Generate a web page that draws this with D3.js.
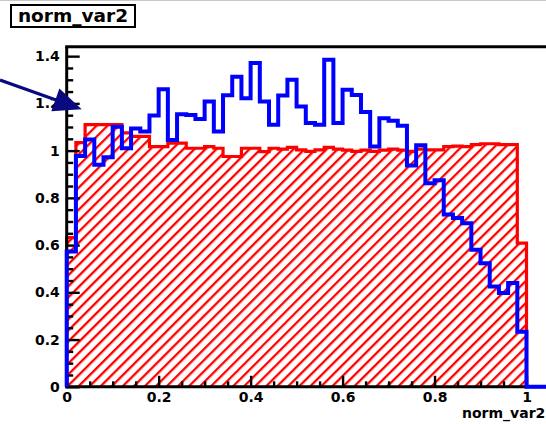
<!DOCTYPE html>
<html>
<head>
<meta charset="utf-8">
<script src="https://cdn.jsdelivr.net/npm/d3@7"></script>
<style>
  html, body { margin: 0; padding: 0; background: #ffffff; }
  svg { display: block; }
  text { font-family: "DejaVu Sans", "Liberation Sans", sans-serif; font-weight: bold; }
</style>
</head>
<body>
<svg id="chart" width="546" height="424"></svg>
<script>
// Histogram binning: 0.02 wide bins starting at 0
const binWidth = 0.02;
const binOrigin = 0;

// Blue outline histogram (bin contents, normalised)
const blueCounts = [
  0.573, 0.977, 1.047, 0.940, 0.972, 1.101, 1.010, 1.094, 1.081, 1.149,
  1.260, 1.045, 1.154, 1.151, 1.134, 1.208, 1.081, 1.234, 1.313, 1.222,
  1.371, 1.208, 1.110, 1.233, 1.300, 1.187, 1.117, 1.110, 1.385, 1.117,
  1.258, 1.236, 1.163, 1.017, 1.137, 1.127, 1.105, 0.937, 1.023, 0.862,
  0.875, 0.729, 0.715, 0.692, 0.580, 0.523, 0.425, 0.397, 0.439, 0.233
];

// Red hatched histogram (bin contents, normalised)
const redCounts = [
  0.632, 1.034, 1.110, 1.110, 1.110, 1.110, 1.075, 1.060, 1.060, 1.017,
  1.017, 1.032, 1.032, 1.010, 1.010, 1.017, 1.010, 0.975, 0.975, 1.010,
  1.010, 0.996, 1.010, 1.006, 1.014, 1.003, 0.997, 1.003, 1.014, 1.006,
  1.002, 0.997, 1.002, 0.997, 1.002, 1.006, 1.002, 0.997, 1.006, 1.003,
  1.003, 1.017, 1.019, 1.017, 1.025, 1.029, 1.029, 1.025, 1.025, 0.608
];

// Axis ranges and tick labels
const xRange = [0, 1.0424];
const yRange = [0, 1.44];
const xMajorTicks = [0, 0.2, 0.4, 0.6, 0.8, 1];
const xTickLabels = ["0", "0.2", "0.4", "0.6", "0.8", "1"];
const yMajorTicks = [0, 0.2, 0.4, 0.6, 0.8, 1, 1.2, 1.4];
const yTickLabels = ["0", "0.2", "0.4", "0.6", "0.8", "1", "1.2", "1.4"];
const minorStep = 0.05;

const histTitle = "norm_var2";
const xAxisTitle = "norm_var2";

// ---------------------------------------------------------------
const svg = d3.select("#chart");
const W = 546, H = 424;

const frame = { left: 66.7, right: 546, top: 46.7, bottom: 386.8 };

const x = d3.scaleLinear().domain(xRange).range([frame.left, frame.right]);
const y = d3.scaleLinear().domain(yRange).range([frame.bottom, frame.top]);

// canvas border line along the top
svg.append("line")
  .attr("x1", 0).attr("x2", W).attr("y1", 0.5).attr("y2", 0.5)
  .attr("stroke", "#c8c8c8").attr("stroke-width", 1);

// hatch pattern for the red histogram
const defs = svg.append("defs");
const hatch = defs.append("pattern")
  .attr("id", "redHatch")
  .attr("patternUnits", "userSpaceOnUse")
  .attr("width", 10).attr("height", 7.8)
  .attr("patternTransform", "rotate(-45)");
hatch.append("rect")
  .attr("x", 0).attr("y", 0).attr("width", 10).attr("height", 2.3)
  .attr("fill", "#ff0000");

// step outline of a histogram from its bin contents
function stepPoints(counts, tailTo) {
  const pts = [[x(binOrigin), y(0)]];
  counts.forEach((c, i) => {
    const x0 = binOrigin + i * binWidth, x1 = x0 + binWidth;
    pts.push([x(x0), y(c)], [x(x1), y(c)]);
  });
  const xEnd = binOrigin + counts.length * binWidth;
  pts.push([x(xEnd), y(0)]);
  if (tailTo !== undefined) pts.push([x(tailTo), y(0)]);
  return pts;
}
const line = d3.line();

// red hatched histogram
const redPts = stepPoints(redCounts);
svg.append("path")
  .attr("d", line(redPts) + "Z")
  .attr("fill", "url(#redHatch)")
  .attr("stroke", "none");
svg.append("path")
  .attr("d", line(redPts))
  .attr("fill", "none")
  .attr("stroke", "#ff0000")
  .attr("stroke-width", 3.2)
  .attr("stroke-linejoin", "miter");

// axes: major and minor ticks pointing into the frame
const xMinor = d3.range(0, xRange[1] + 1e-9, minorStep).filter(v => !xMajorTicks.some(t => Math.abs(t - v) < 1e-6));
const yMinor = d3.range(0, yRange[1] + 1e-9, minorStep).filter(v => !yMajorTicks.some(t => Math.abs(t - v) < 1e-6));

const gx = svg.append("g").attr("transform", `translate(0,${frame.bottom})`);
gx.call(d3.axisBottom(x).tickValues(xMajorTicks).tickSize(-11).tickPadding(5)
  .tickFormat((d, i) => xTickLabels[i]));
const gxm = svg.append("g").attr("transform", `translate(0,${frame.bottom})`);
gxm.call(d3.axisBottom(x).tickValues(xMinor).tickSize(-5.5).tickFormat(""));

const gy = svg.append("g").attr("transform", `translate(${frame.left},0)`);
gy.call(d3.axisLeft(y).tickValues(yMajorTicks).tickSize(-13).tickPadding(7)
  .tickFormat((d, i) => yTickLabels[i]));
const gym = svg.append("g").attr("transform", `translate(${frame.left},0)`);
gym.call(d3.axisLeft(y).tickValues(yMinor).tickSize(-6.5).tickFormat(""));

svg.selectAll(".domain").remove();
svg.selectAll(".tick line").attr("stroke", "#000").attr("stroke-width", 2.4);
svg.selectAll(".tick text")
  .attr("fill", "#000")
  .style("font-size", "14px")
  .style("font-family", "'DejaVu Sans', sans-serif")
  .style("font-weight", "bold");

// frame lines
const frameG = svg.append("g").attr("stroke", "#000").attr("stroke-width", 3).attr("fill", "none");
frameG.append("line").attr("x1", frame.left - 1.5).attr("x2", W).attr("y1", frame.top).attr("y2", frame.top);
frameG.append("line").attr("x1", frame.left).attr("x2", frame.left).attr("y1", frame.top).attr("y2", frame.bottom + 1.5);
frameG.append("line").attr("x1", frame.left - 1.5).attr("x2", W).attr("y1", frame.bottom).attr("y2", frame.bottom);

// blue outline histogram, drawn over the axes
svg.append("path")
  .attr("d", line(stepPoints(blueCounts, xRange[1])))
  .attr("fill", "none")
  .attr("stroke", "#0000ff")
  .attr("stroke-width", 4)
  .attr("stroke-linejoin", "miter");

// x axis title
svg.append("text")
  .attr("x", 462).attr("y", 418)
  .attr("text-anchor", "start")
  .style("font-size", "14px")
  .text(xAxisTitle);

// arrow pointing at the y axis
const arrowStart = [0, 80], arrowTip = [81.7, 109.3];
const headLen = 28, headHalf = 12;
const dx = arrowTip[0] - arrowStart[0], dy = arrowTip[1] - arrowStart[1];
const len = Math.hypot(dx, dy), ux = dx / len, uy = dy / len;
const base = [arrowTip[0] - ux * headLen, arrowTip[1] - uy * headLen];
svg.append("line")
  .attr("x1", arrowStart[0]).attr("y1", arrowStart[1])
  .attr("x2", base[0]).attr("y2", base[1])
  .attr("stroke", "#0a0a80").attr("stroke-width", 3.2);
svg.append("polygon")
  .attr("points", [
    arrowTip,
    [base[0] - uy * headHalf, base[1] + ux * headHalf],
    [base[0] + uy * headHalf, base[1] - ux * headHalf]
  ].map(p => p.join(",")).join(" "))
  .attr("fill", "#0a0a80");

// title box
const tg = svg.append("g");
tg.append("rect")
  .attr("x", 11).attr("y", 5).attr("width", 124).attr("height", 22)
  .attr("fill", "#fff").attr("stroke", "#000").attr("stroke-width", 2);
tg.append("text")
  .attr("x", 73).attr("y", 21.7)
  .attr("text-anchor", "middle")
  .style("font-size", "18.5px")
  .text(histTitle);
</script>
</body>
</html>
